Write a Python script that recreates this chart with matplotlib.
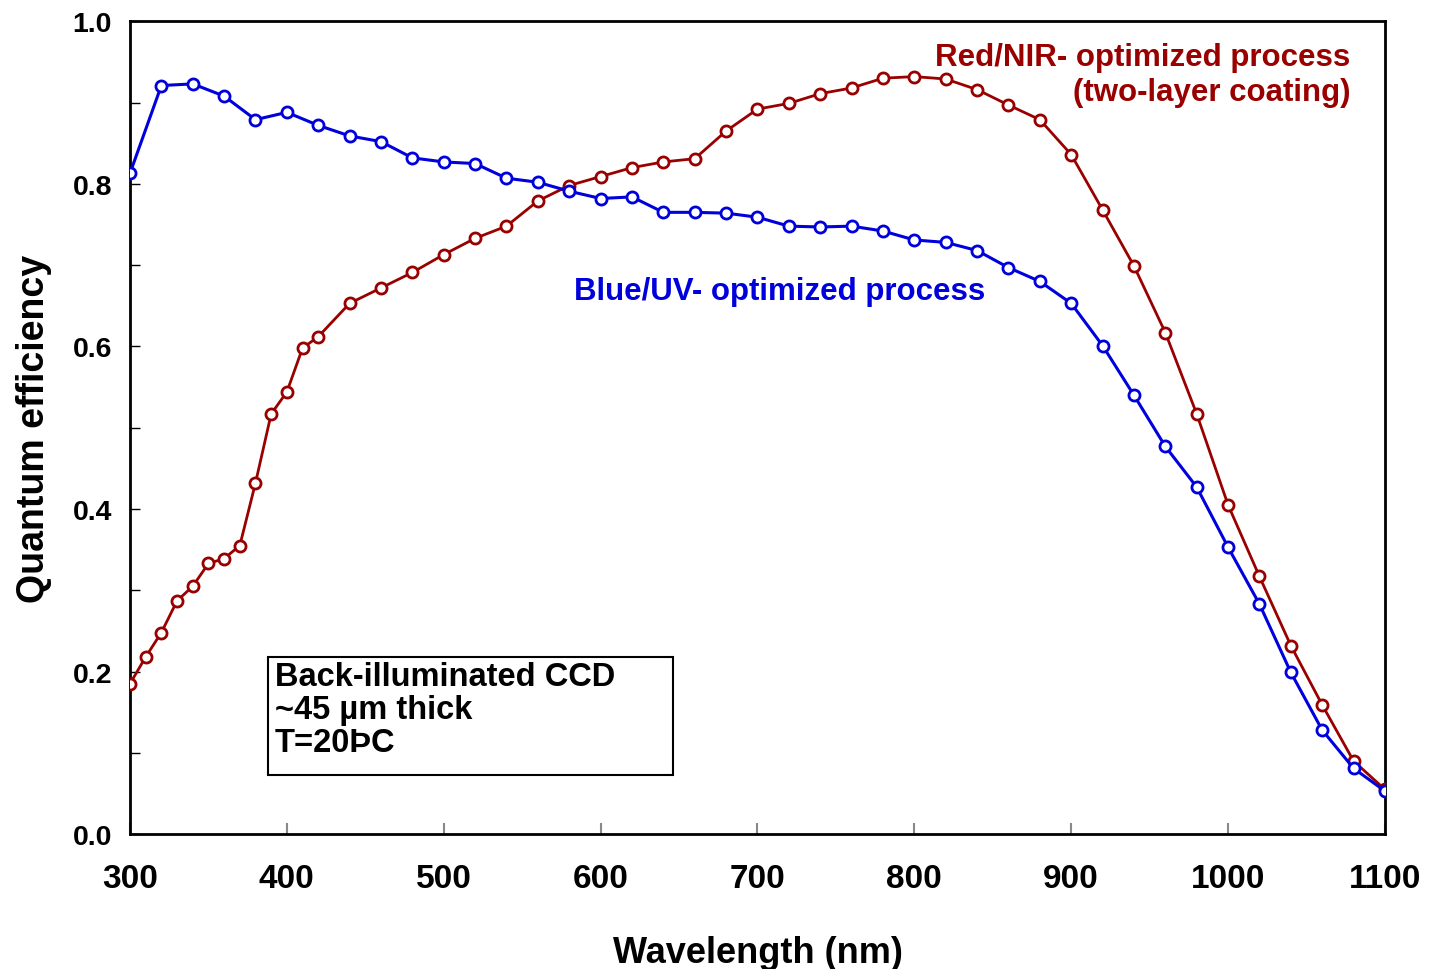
import matplotlib
matplotlib.use('Agg')
import matplotlib.pyplot as plt
from matplotlib.patches import Rectangle
from matplotlib.ticker import MultipleLocator

plt.rcParams['font.family'] = ['Liberation Sans', 'DejaVu Sans']
plt.rcParams['font.weight'] = 'bold'

# Blue/UV-optimized process
blue_wl = [300, 320, 340, 360, 380, 400, 420, 440, 460, 480, 500, 520, 540, 560,
           580, 600, 620, 640, 660, 680, 700, 720, 740, 760, 780, 800, 820, 840,
           860, 880, 900, 920, 940, 960, 980, 1000, 1020, 1040, 1060, 1080, 1100]
blue_qe = [0.813, 0.921, 0.923, 0.908, 0.879, 0.888, 0.872, 0.859, 0.852, 0.832,
           0.827, 0.825, 0.807, 0.802, 0.791, 0.782, 0.784, 0.765, 0.765, 0.764,
           0.759, 0.748, 0.747, 0.748, 0.742, 0.731, 0.728, 0.718, 0.697, 0.680,
           0.653, 0.601, 0.540, 0.477, 0.427, 0.353, 0.283, 0.199, 0.128, 0.081, 0.053]

# Red/NIR-optimized process
red_wl = [300, 310, 320, 330, 340, 350, 360, 370, 380, 390, 400, 410, 420, 440,
          460, 480, 500, 520, 540, 560, 580, 600, 620, 640, 660, 680, 700, 720,
          740, 760, 780, 800, 820, 840, 860, 880, 900, 920, 940, 960, 980, 1000,
          1020, 1040, 1060, 1080, 1100]
red_qe = [0.185, 0.218, 0.248, 0.287, 0.305, 0.333, 0.339, 0.355, 0.432, 0.517,
          0.544, 0.598, 0.612, 0.653, 0.672, 0.691, 0.713, 0.733, 0.748, 0.779,
          0.798, 0.809, 0.820, 0.827, 0.831, 0.865, 0.892, 0.899, 0.911, 0.918,
          0.930, 0.932, 0.929, 0.916, 0.897, 0.879, 0.836, 0.768, 0.699, 0.617,
          0.517, 0.405, 0.317, 0.232, 0.159, 0.090, 0.055]

y_ticks = [0.0, 0.2, 0.4, 0.6, 0.8, 1.0]
y_labels = ['0.0', '0.2', '0.4', '0.6', '0.8', '1.0']

blue = '#0000dd'
red = '#990000'

fig = plt.figure(figsize=(14.3, 9.7), dpi=100)
ax = fig.add_axes([0.0909, 0.139, 0.8776, 0.838])

ax.plot(red_wl, red_qe, color=red, lw=2, marker='o', ms=8, mfc='white',
        mec=red, mew=2, zorder=3)
ax.plot(blue_wl, blue_qe, color=blue, lw=2.2, marker='o', ms=8, mfc='white',
        mec=blue, mew=2, zorder=4)

ax.xaxis.set_major_locator(MultipleLocator(100))
ax.set_yticks(y_ticks)
ax.set_yticklabels(y_labels)
ax.yaxis.set_minor_locator(MultipleLocator(0.1))
ax.set_xlim(300, 1100)
ax.set_ylim(0, 1.0)
ax.tick_params(axis='x', direction='in', length=8, width=1.5, color='#888888',
               labelsize=24, pad=21)
ax.tick_params(axis='y', which='both', direction='in', length=7, width=1,
               labelsize=20.5, pad=13)
for lbl in ax.get_xticklabels() + ax.get_yticklabels():
    lbl.set_fontweight('bold')
for s in ax.spines.values():
    s.set_linewidth(2)

ax.set_xlabel('Wavelength (nm)', fontsize=26, fontweight='bold', labelpad=29)
ax.set_ylabel('Quantum efficiency', fontsize=27, fontweight='bold', labelpad=15)

ax.text(1078, 0.975, 'Red/NIR- optimized process\n(two-layer coating)',
        color=red, fontsize=22.5, fontweight='bold', ha='right', va='top',
        linespacing=1.22)
ax.text(714, 0.668, 'Blue/UV- optimized process', color=blue, fontsize=22.5,
        fontweight='bold', ha='center', va='center')

ax.add_patch(Rectangle((388, 0.0726), 258, 0.1451, fill=True, fc='white',
                       ec='black', lw=1.5, zorder=5))
ax.text(392.5, 0.213, 'Back-illuminated CCD\n~45 µm thick\nT=20ÞC',
        fontsize=23.5, fontweight='bold', ha='left', va='top', linespacing=1.08,
        zorder=6)

fig.savefig('out.png', dpi=100)
